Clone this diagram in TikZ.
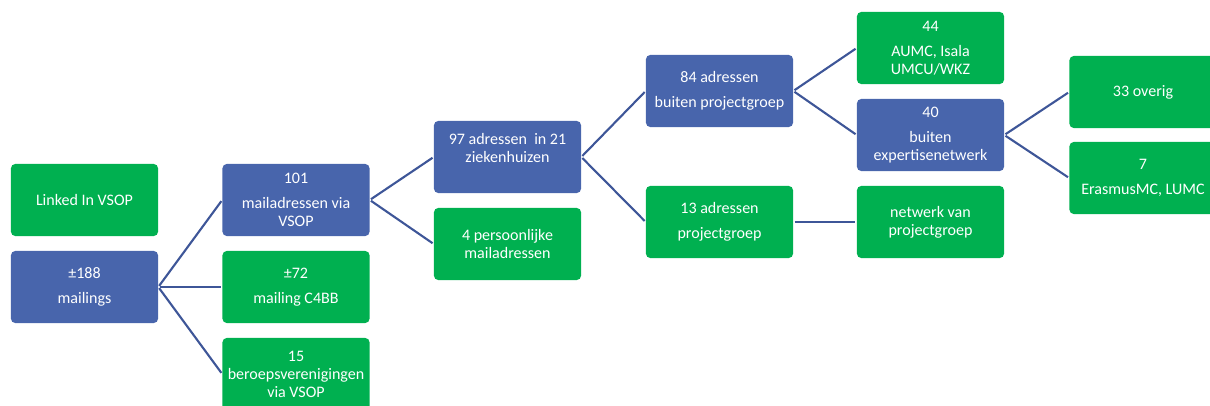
\documentclass[tikz,border=0pt]{standalone}
\usepackage{fontspec}
\setmainfont{Carlito}
\definecolor{boxblue}{RGB}{72,101,172}
\definecolor{boxgreen}{RGB}{0,176,80}
\definecolor{lineblue}{RGB}{62,86,152}
\begin{document}
\begin{tikzpicture}[x=0.025cm, y=-0.025cm,
        box/.style={rounded corners=3pt, align=center, minimum width=3.675cm, minimum height=1.8cm, text=white, font=\fontsize{11.4}{12.8}\selectfont, inner sep=2pt},
        bluebox/.style={box, fill=boxblue},
        greenbox/.style={box, fill=boxgreen},
        link/.style={draw=lineblue, line width=1.5pt, shorten <=1pt, shorten >=1pt}
    ]
        \useasboundingbox (0,0) rectangle (1210,406);

        \node[greenbox] (linkedin) at (84.5,200) {Linked In VSOP};
        \node[bluebox] (mailings) at (84.5,287) {±188\\[5pt]mailings};

        \node[bluebox] (vsop) at (296,200) {101\\[5pt]mailadressen via\\VSOP};
        \node[greenbox] (c4bb) at (296,287) {±72\\[5pt]mailing C4BB};
        \node[greenbox] (beroep) at (296,374) {15\\beroepsverenigingen\\via VSOP};

        \node[bluebox] (zkh) at (507.5,157) {97 adressen\ \ in 21\\ziekenhuizen\\~};
        \node[greenbox] (pers) at (507.5,244) {4 persoonlijke\\mailadressen};

        \node[bluebox] (buiten) at (719.5,91) {84 adressen\\[5pt]buiten projectgroep};
        \node[greenbox] (proj) at (719.5,222) {13 adressen\\[5pt]projectgroep};

        \node[greenbox] (aumc) at (930.5,48) {44\\[5pt]AUMC, Isala\\UMCU/WKZ};
        \node[bluebox] (expert) at (930.5,135) {40\\[5pt]buiten\\expertisenetwerk};
        \node[greenbox] (netwerk) at (930.5,222) {netwerk van\\projectgroep};

        \node[greenbox] (overig) at (1143,92) {33 overig};
        \node[greenbox] (erasmus) at (1143,178) {7\\[5pt]ErasmusMC, LUMC};

        \draw[link] (mailings.east) -- (vsop.west);
        \draw[link] (mailings.east) -- (c4bb.west);
        \draw[link] (mailings.east) -- (beroep.west);
        \draw[link] (vsop.east) -- (zkh.west);
        \draw[link] (vsop.east) -- (pers.west);
        \draw[link] (zkh.east) -- (buiten.west);
        \draw[link] (zkh.east) -- (proj.west);
        \draw[link] (buiten.east) -- (aumc.west);
        \draw[link] (buiten.east) -- (expert.west);
        \draw[link] (proj.east) -- (netwerk.west);
        \draw[link] (expert.east) -- (overig.west);
        \draw[link] (expert.east) -- (erasmus.west);
    \end{tikzpicture}
\end{document}
